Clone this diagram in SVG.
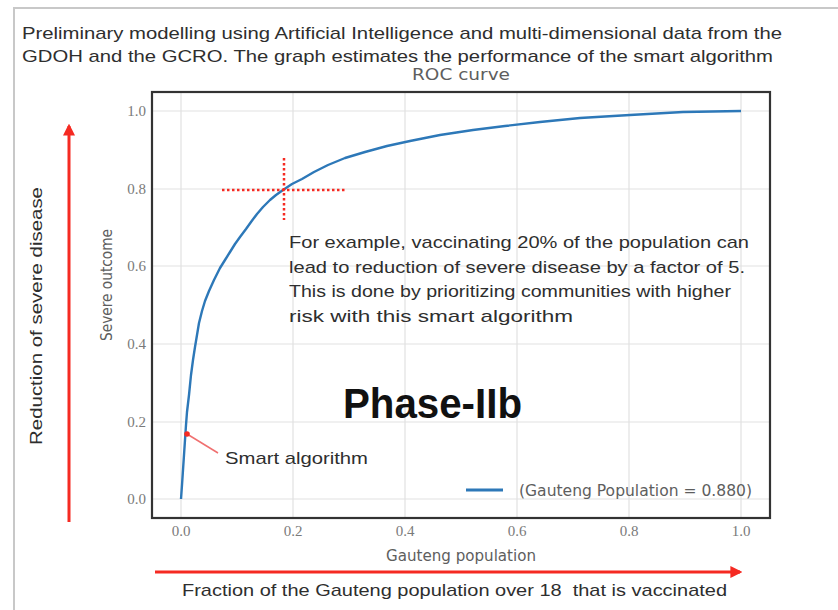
<svg xmlns="http://www.w3.org/2000/svg" width="838" height="610" viewBox="0 0 838 610">
<defs>
<style>
.hdr{font-family:"Liberation Sans",Arial,sans-serif;font-size:17px;fill:#2e2e2e}
.tick{font-family:"Liberation Serif","DejaVu Serif",serif;font-size:15px;fill:#7a7a7a}
.lab{font-family:"DejaVu Sans Condensed","DejaVu Sans",sans-serif;font-size:15px;fill:#5e5e5e;font-stretch:condensed}
.grid{stroke:#e2e2e2;stroke-width:1.2;fill:none}
.red{stroke:#f52a22;fill:none}
</style>
<marker id="ah" viewBox="0 0 10 10" refX="8" refY="5" markerWidth="4" markerHeight="4" orient="auto">
<path d="M0,0 L10,5 L0,10 Z" fill="#f52a22"/>
</marker>
</defs>
<rect width="838" height="610" fill="#fff"/>
<path d="M14,610 V8 H838" stroke="#c8c8c8" stroke-width="2" fill="none"/>

<g id="header">
<text class="hdr" x="22" y="39" textLength="760" lengthAdjust="spacingAndGlyphs">Preliminary modelling using Artificial Intelligence and multi-dimensional data from the</text>
<text class="hdr" x="22" y="62" textLength="751" lengthAdjust="spacingAndGlyphs">GDOH and the GCRO. The graph estimates the performance of the smart algorithm</text>
</g>

<g id="chart">
<text class="lab" x="461" y="80" text-anchor="middle" textLength="98" lengthAdjust="spacingAndGlyphs">ROC curve</text>
<g class="grid">
<path d="M181,92V518M293,92V518M405,92V518M517,92V518M629,92V518M741,92V518"/>
<path d="M152,111H770M152,189H770M152,266H770M152,344H770M152,422H770M152,499H770"/>
</g>
<rect x="152" y="92" width="618" height="426" fill="none" stroke="#333" stroke-width="2.2"/>
<g class="tick" text-anchor="end">
<text x="146" y="116">1.0</text>
<text x="146" y="194">0.8</text>
<text x="146" y="271">0.6</text>
<text x="146" y="349">0.4</text>
<text x="146" y="427">0.2</text>
<text x="146" y="504">0.0</text>
</g>
<g class="tick" text-anchor="middle">
<text x="181" y="536">0.0</text>
<text x="293" y="536">0.2</text>
<text x="405" y="536">0.4</text>
<text x="517" y="536">0.6</text>
<text x="629" y="536">0.8</text>
<text x="741" y="536">1.0</text>
</g>
<text class="lab" x="461" y="561" text-anchor="middle" textLength="150" lengthAdjust="spacingAndGlyphs">Gauteng population</text>
<text class="lab" transform="translate(112,285) rotate(-90)" text-anchor="middle" textLength="112" lengthAdjust="spacingAndGlyphs">Severe outcome</text>
</g>

<g id="roc-curve">
<path d="M181,499 L182,485 L183,470 L184,455 L185,440 L186,425 L187,412 L189,395 L191,375 L193,360 L195,347 L197,335 L199,323 L202,311 L205,301 L209,291 L214,280 L220,268 L225,260 L230,252 L235,244 L240,237 L246,229 L251,222 L257,214 L263,207 L270,200 L276,195 L283,190 L292,184 L302,179 L314,172 L328,165 L345,158 L365,152 L387,146 L410,141 L440,135 L473,130 L505,126 L540,122 L580,118 L630,115 L683,112 L741,111" fill="none" stroke="#2d78b8" stroke-width="2.4" stroke-linejoin="round"/>
</g>

<g id="legend">
<line x1="466" y1="490" x2="503" y2="490" stroke="#2d78b8" stroke-width="3"/>
<text class="lab" x="519" y="496" textLength="233" lengthAdjust="spacingAndGlyphs">(Gauteng Population = 0.880)</text>
</g>

<g id="crosshair">
<line class="red" x1="222" y1="190" x2="346" y2="190" stroke-width="2.5" stroke-dasharray="2.5,2.5"/>
<line class="red" x1="284" y1="158" x2="284" y2="220" stroke-width="2.5" stroke-dasharray="2.5,2.5"/>
</g>

<g id="annotation">
<text class="hdr" x="289" y="248" textLength="460" lengthAdjust="spacingAndGlyphs">For example, vaccinating 20% of the population can</text>
<text class="hdr" x="289" y="273" textLength="456" lengthAdjust="spacingAndGlyphs">lead to reduction of severe disease by a factor of 5.</text>
<text class="hdr" x="289" y="297" textLength="442" lengthAdjust="spacingAndGlyphs">This is done by prioritizing communities with higher</text>
<text class="hdr" x="289" y="322" textLength="284" lengthAdjust="spacingAndGlyphs">risk with this smart algorithm</text>
</g>

<g id="phase">
<text x="343" y="418" font-family="'Liberation Sans',Arial,sans-serif" font-weight="bold" font-size="42" fill="#111" textLength="179" lengthAdjust="spacingAndGlyphs">Phase-IIb</text>
</g>

<g id="smart-algorithm">
<line x1="187" y1="434" x2="218" y2="453" stroke="#f07070" stroke-width="1.5"/>
<circle cx="187" cy="434" r="2.8" fill="#f52a22"/>
<text class="hdr" x="225" y="464" textLength="143" lengthAdjust="spacingAndGlyphs">Smart algorithm</text>
</g>

<g id="connectors">
<line class="red" x1="69" y1="522" x2="69" y2="126" stroke-width="3" marker-end="url(#ah)"/>
<line class="red" x1="155" y1="572" x2="740" y2="572" stroke-width="3" marker-end="url(#ah)"/>
</g>

<g id="axis-notes">
<text class="hdr" transform="translate(42,316) rotate(-90)" text-anchor="middle" textLength="258" lengthAdjust="spacingAndGlyphs">Reduction of severe disease</text>
<text class="hdr" x="182" y="596" textLength="545" lengthAdjust="spacingAndGlyphs">Fraction of the Gauteng population over 18&#160; that is vaccinated</text>
</g>
</svg>
